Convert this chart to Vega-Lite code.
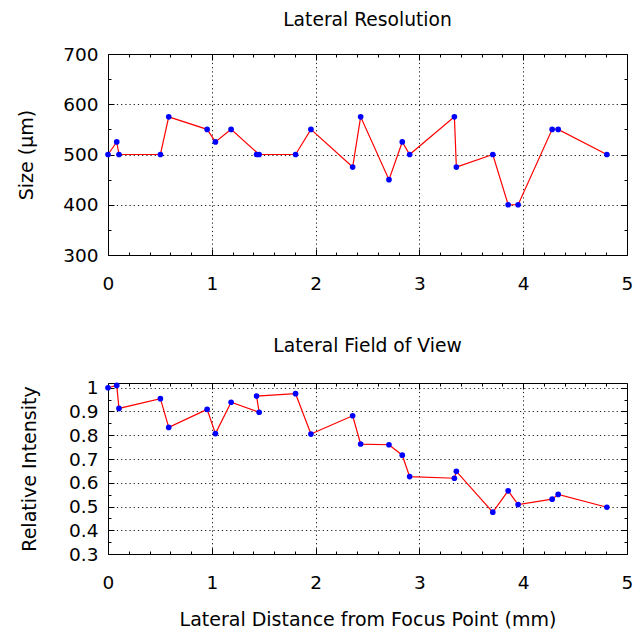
{
  "$schema": "https://vega.github.io/schema/vega-lite/v6.json",
  "background": "white",
  "padding": {"left": 17, "top": 10, "right": 2, "bottom": 2},
  "config": {
    "font": "DejaVu Sans",
    "view": {"stroke": "black", "strokeWidth": 1},
    "axis": {
      "domain": false,
      "labelFont": "DejaVu Sans",
      "labelFontSize": 18.5,
      "labelColor": "black",
      "labelFlush": false,
      "labelOverlap": false,
      "labelBound": false,
      "tickColor": "black",
      "tickWidth": 1,
      "gridColor": "black",
      "gridDash": [1.2, 3],
      "gridWidth": 1,
      "titleFont": "DejaVu Sans",
      "titleFontSize": 19,
      "titleFontWeight": "normal",
      "titleColor": "black"
    },
    "title": {"font": "DejaVu Sans", "fontSize": 18.7, "fontWeight": "normal", "color": "black", "frame": "group", "anchor": "middle"}
  },
  "datasets": {
    "measurements": [
      {"i": 0, "distance": 0.000, "size": 500, "intensity": 1.000},
      {"i": 1, "distance": 0.084, "size": 525, "intensity": 1.010},
      {"i": 2, "distance": 0.106, "size": 500, "intensity": 0.913},
      {"i": 3, "distance": 0.505, "size": 500, "intensity": 0.954},
      {"i": 4, "distance": 0.585, "size": 575, "intensity": 0.833},
      {"i": 5, "distance": 0.955, "size": 550, "intensity": 0.909},
      {"i": 6, "distance": 1.035, "size": 525, "intensity": 0.807},
      {"i": 7, "distance": 1.186, "size": 550, "intensity": 0.939},
      {"i": 8, "distance": 1.456, "size": 500, "intensity": 0.897},
      {"i": 9, "distance": 1.431, "size": 500, "intensity": 0.965},
      {"i": 10, "distance": 1.807, "size": 500, "intensity": 0.975},
      {"i": 11, "distance": 1.955, "size": 550, "intensity": 0.805},
      {"i": 12, "distance": 2.357, "size": 475, "intensity": 0.882},
      {"i": 13, "distance": 2.434, "size": 575, "intensity": 0.763},
      {"i": 14, "distance": 2.707, "size": 450, "intensity": 0.760},
      {"i": 15, "distance": 2.835, "size": 525, "intensity": 0.716},
      {"i": 16, "distance": 2.906, "size": 500, "intensity": 0.626},
      {"i": 17, "distance": 3.337, "size": 575, "intensity": 0.619},
      {"i": 18, "distance": 3.356, "size": 475, "intensity": 0.648},
      {"i": 19, "distance": 3.707, "size": 500, "intensity": 0.476},
      {"i": 20, "distance": 3.855, "size": 400, "intensity": 0.566},
      {"i": 21, "distance": 3.951, "size": 400, "intensity": 0.508},
      {"i": 22, "distance": 4.279, "size": 550, "intensity": 0.531},
      {"i": 23, "distance": 4.337, "size": 550, "intensity": 0.551},
      {"i": 24, "distance": 4.806, "size": 500, "intensity": 0.497}
    ]
  },
  "spacing": 40,
  "vconcat": [
    {
      "title": {"text": "Lateral Resolution", "offset": 15},
      "width": 519,
      "height": 201,
      "data": {"name": "measurements"},
      "resolve": {"scale": {"x": "independent", "y": "independent"}, "axis": {"x": "independent", "y": "independent"}},
      "layer": [
        {
          "mark": {"type": "line", "color": "red", "strokeWidth": 1.2},
          "encoding": {
            "order": {"field": "i", "type": "quantitative"},
            "x": {
              "field": "distance", "type": "quantitative",
              "scale": {"domain": [0, 5], "nice": false, "zero": false},
              "axis": {
                "orient": "bottom", "title": null,
                "values": [0, 0.2, 0.4, 0.6, 0.8, 1, 1.2, 1.4, 1.6, 1.8, 2, 2.2, 2.4, 2.6, 2.8, 3, 3.2, 3.4, 3.6, 3.8, 4, 4.2, 4.4, 4.6, 4.8, 5],
                "tickSize": {"condition": {"test": "abs(datum.value - round(datum.value)) < 1e-6", "value": -6}, "value": -3},
                "labelExpr": "abs(datum.value - round(datum.value)) < 1e-6 ? format(datum.value, 'd') : ''",
                "labelPadding": 25,
                "grid": true,
                "gridOpacity": {"condition": {"test": "abs(datum.value - round(datum.value)) < 1e-6 && datum.value > 0 && datum.value < 5", "value": 0.9}, "value": 0}
              }
            },
            "y": {
              "field": "size", "type": "quantitative",
              "scale": {"domain": [300, 700], "nice": false, "zero": false},
              "axis": {
                "orient": "left", "title": "Size (µm)", "titlePadding": 26,
                "values": [300, 350, 400, 450, 500, 550, 600, 650, 700],
                "tickSize": {"condition": {"test": "datum.value % 100 === 0", "value": -6}, "value": -3},
                "labelExpr": "datum.value % 100 === 0 ? datum.label : ''",
                "labelPadding": 16,
                "grid": true,
                "gridOpacity": {"condition": {"test": "datum.value % 100 === 0 && datum.value > 300 && datum.value < 700", "value": 0.9}, "value": 0}
              }
            }
          }
        },
        {
          "mark": {"type": "circle", "color": "blue", "size": 32, "opacity": 1},
          "encoding": {
            "x": {
              "field": "distance", "type": "quantitative",
              "scale": {"domain": [0, 5], "nice": false, "zero": false},
              "axis": {
                "orient": "top", "title": null, "labels": false, "grid": false,
                "values": [0, 0.2, 0.4, 0.6, 0.8, 1, 1.2, 1.4, 1.6, 1.8, 2, 2.2, 2.4, 2.6, 2.8, 3, 3.2, 3.4, 3.6, 3.8, 4, 4.2, 4.4, 4.6, 4.8, 5],
                "tickSize": {"condition": {"test": "abs(datum.value - round(datum.value)) < 1e-6", "value": -6}, "value": -3}
              }
            },
            "y": {
              "field": "size", "type": "quantitative",
              "scale": {"domain": [300, 700], "nice": false, "zero": false},
              "axis": {
                "orient": "right", "title": null, "labels": false, "grid": false,
                "values": [300, 350, 400, 450, 500, 550, 600, 650, 700],
                "tickSize": {"condition": {"test": "datum.value % 100 === 0", "value": -6}, "value": -3}
              }
            }
          }
        }
      ]
    },
    {
      "title": {"text": "Lateral Field of View", "offset": 23},
      "width": 519,
      "height": 171,
      "data": {"name": "measurements"},
      "resolve": {"scale": {"x": "independent", "y": "independent"}, "axis": {"x": "independent", "y": "independent"}},
      "layer": [
        {
          "mark": {"type": "line", "color": "red", "strokeWidth": 1.2},
          "encoding": {
            "order": {"field": "i", "type": "quantitative"},
            "x": {
              "field": "distance", "type": "quantitative",
              "scale": {"domain": [0, 5], "nice": false, "zero": false},
              "axis": {
                "orient": "bottom", "title": "Lateral Distance from Focus Point (mm)", "titlePadding": 16,
                "values": [0, 0.2, 0.4, 0.6, 0.8, 1, 1.2, 1.4, 1.6, 1.8, 2, 2.2, 2.4, 2.6, 2.8, 3, 3.2, 3.4, 3.6, 3.8, 4, 4.2, 4.4, 4.6, 4.8, 5],
                "tickSize": {"condition": {"test": "abs(datum.value - round(datum.value)) < 1e-6", "value": -6}, "value": -3},
                "labelExpr": "abs(datum.value - round(datum.value)) < 1e-6 ? format(datum.value, 'd') : ''",
                "labelPadding": 25,
                "grid": true,
                "gridOpacity": {"condition": {"test": "abs(datum.value - round(datum.value)) < 1e-6 && datum.value > 0 && datum.value < 5", "value": 0.9}, "value": 0}
              }
            },
            "y": {
              "field": "intensity", "type": "quantitative",
              "scale": {"domain": [0.3, 1.02], "nice": false, "zero": false},
              "axis": {
                "orient": "left", "title": "Relative Intensity", "titlePadding": 29,
                "values": [0.3, 0.35, 0.4, 0.45, 0.5, 0.55, 0.6, 0.65, 0.7, 0.75, 0.8, 0.85, 0.9, 0.95, 1],
                "tickSize": {"condition": {"test": "round(datum.value * 100) % 10 === 0", "value": -6}, "value": -3},
                "labelExpr": "round(datum.value * 100) % 10 === 0 ? format(datum.value, '.1~f') : ''",
                "labelPadding": 16,
                "grid": true,
                "gridOpacity": {"condition": {"test": "round(datum.value * 100) % 10 === 0 && datum.value > 0.31", "value": 0.9}, "value": 0}
              }
            }
          }
        },
        {
          "mark": {"type": "circle", "color": "blue", "size": 32, "opacity": 1},
          "encoding": {
            "x": {
              "field": "distance", "type": "quantitative",
              "scale": {"domain": [0, 5], "nice": false, "zero": false},
              "axis": {
                "orient": "top", "title": null, "labels": false, "grid": false,
                "values": [0, 0.2, 0.4, 0.6, 0.8, 1, 1.2, 1.4, 1.6, 1.8, 2, 2.2, 2.4, 2.6, 2.8, 3, 3.2, 3.4, 3.6, 3.8, 4, 4.2, 4.4, 4.6, 4.8, 5],
                "tickSize": {"condition": {"test": "abs(datum.value - round(datum.value)) < 1e-6", "value": -6}, "value": -3}
              }
            },
            "y": {
              "field": "intensity", "type": "quantitative",
              "scale": {"domain": [0.3, 1.02], "nice": false, "zero": false},
              "axis": {
                "orient": "right", "title": null, "labels": false, "grid": false,
                "values": [0.3, 0.35, 0.4, 0.45, 0.5, 0.55, 0.6, 0.65, 0.7, 0.75, 0.8, 0.85, 0.9, 0.95, 1],
                "tickSize": {"condition": {"test": "round(datum.value * 100) % 10 === 0", "value": -6}, "value": -3}
              }
            }
          }
        }
      ]
    }
  ]
}
